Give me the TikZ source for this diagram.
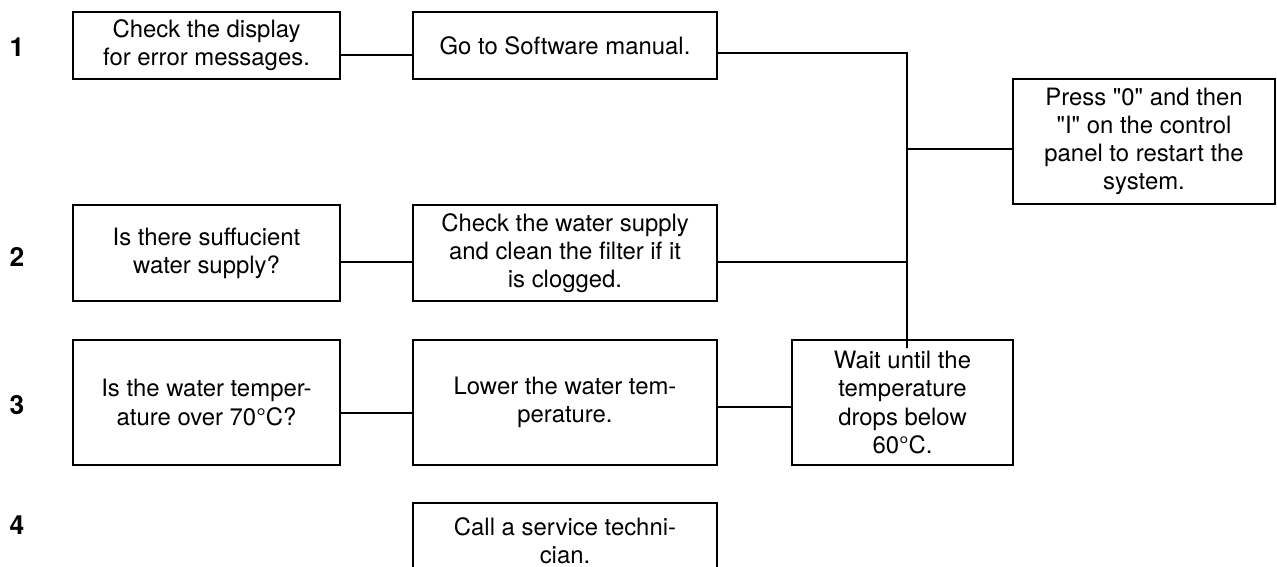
\documentclass[tikz,border=0pt]{standalone}
\usepackage{fontspec}
\setmainfont{TeX Gyre Heros}[Ligatures=TeXOff]
\tikzset{
    line/.style={
        line width=1.1pt
    },
    stepbox/.style={
        line,
        draw,
        align=center,
        inner sep=2pt,
        font=\fontsize{13.6}{16}\selectfont
    },
    narrow/.style={
        stepbox,
        minimum width=5.34cm
    },
    wide/.style={
        stepbox,
        minimum width=6.08cm
    },
    rownum/.style={
        font=\fontsize{15}{16}\selectfont\bfseries
    }
}

\begin{document}
\begin{tikzpicture}[x=0.02cm, y=-0.02cm]
    \useasboundingbox (0, 0) rectangle (1277, 567);

    % row numbers
    \node [rownum] (n1) at (17, 47) {1};
    \node [rownum] (n2) at (17, 257) {2};
    \node [rownum] (n3) at (17, 405) {3};
    \node [rownum] (n4) at (17, 525) {4};

    % row 1
    \node [narrow, minimum height=1.34cm] (display) at (206.5, 45.5)
        {Check the display\\for error messages.};
    \node [wide, minimum height=1.34cm] (manual) at (565, 45.5)
        {Go to Software manual.};
    \node [stepbox, minimum width=5.24cm, minimum height=2.5cm] (restart) at (1144, 141.5)
        {Press "0" and then\\"I" on the control\\panel to restart the\\system.};

    % row 2
    \node [narrow, minimum height=1.93cm] (supply) at (206.5, 253)
        {Is there suffucient\\water supply?};
    \node [wide, minimum height=1.93cm] (filter) at (565, 253)
        {Check the water supply\\and clean the filter if it\\is clogged.};

    % row 3
    \node [narrow, minimum height=2.5cm] (temp) at (206.5, 402.5)
        {Is the water temper-\\ature over 70°C?};
    \node [wide, minimum height=2.5cm] (lower) at (565, 402.5)
        {Lower the water tem-\\perature.};
    \node [stepbox, minimum width=4.42cm, minimum height=2.5cm] (wait) at (902.5, 402.5)
        {Wait until the\\temperature\\drops below\\60°C.};

    % row 4
    \node [wide, minimum height=1.5cm] (service) at (565, 540.5)
        {Call a service techni-\\cian.};

    % junction
    \coordinate (jtop) at (907, 53);
    \coordinate (jmid) at (907, 149);
    \coordinate (jbot) at (907, 348);

    \draw [line] ([yshift=-0.19cm]display.east) -- ([yshift=-0.19cm]manual.west);
    \draw [line] ([yshift=-0.15cm]manual.east) -- (jtop) -- (jbot);
    \draw [line] (jmid) -- (jmid -| restart.west);
    \draw [line] ([yshift=-0.18cm]supply.east) -- ([yshift=-0.18cm]filter.west);
    \draw [line] ([yshift=-0.18cm]filter.east) coordinate (fe) -- (fe -| jtop);
    \draw [line] ([yshift=-0.21cm]temp.east) -- ([yshift=-0.21cm]lower.west);
    \draw [line] ([yshift=-0.09cm]lower.east) -- ([yshift=-0.09cm]wait.west);
\end{tikzpicture}
\end{document}
